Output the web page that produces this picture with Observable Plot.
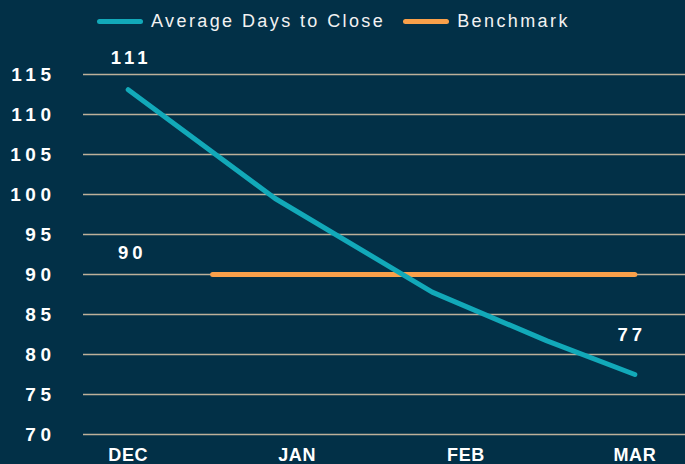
<!DOCTYPE html>
<html>
<head>
<meta charset="utf-8">
<script src="https://cdn.jsdelivr.net/npm/d3@7"></script>
<script src="https://cdn.jsdelivr.net/npm/@observablehq/plot@0.6"></script>
<style>
  html, body { margin: 0; padding: 0; background: #023047; }
  body { width: 685px; height: 464px; overflow: hidden; font-family: "Liberation Sans", Arial, sans-serif; }
  #legend { height: 40px; box-sizing: border-box; padding-top: 3px; padding-left: 97px; display: flex; align-items: center; color: #f2f2f2; font-size: 18px; letter-spacing: 2.4px; }
  .sw { display: inline-block; width: 46px; height: 5px; border-radius: 3px; margin-right: 8px; }
  .item { display: flex; align-items: center; margin-right: 18px; }
</style>
</head>
<body>
<div id="legend"></div>
<div id="chart"></div>
<script>
// Month categories (x = month index)
const months = ["DEC", "JAN", "FEB", "MAR"];
// Average Days to Close line (x in month units)
const closeX = [0, 0.87, 1.8, 2.48, 3];
const closeY = [113.1, 99.5, 87.8, 81.7, 77.5];
// Benchmark segment
const benchX = [0.5, 3];
const benchY = [90, 90];
// Annotations
const labelText = ["111", "90", "77"];
const labelX = [0, 0, 3];
const labelY = [111, 90, 77];
const yTicks = [70, 75, 80, 85, 90, 95, 100, 105, 110, 115];
const seriesNames = ["Average Days to Close", "Benchmark"];
const colors = ["#12a9b9", "#f9a04a"];

const closeData = closeX.map((x, i) => ({x, y: closeY[i]}));
const benchData = benchX.map((x, i) => ({x, y: benchY[i]}));
const labels = labelText.map((t, i) => ({t, x: labelX[i], y: labelY[i]}));

const legend = document.getElementById("legend");
seriesNames.forEach((n, i) => {
  const it = document.createElement("div");
  it.className = "item";
  it.innerHTML = `<span class="sw" style="background:${colors[i]}"></span><span>${n}</span>`;
  legend.appendChild(it);
});

const txt = {fill: "#ffffff", fontSize: 18.5, fontWeight: "bold"};

const chart = Plot.plot({
  width: 685,
  height: 424,
  marginLeft: 83,
  marginRight: 0,
  marginTop: 34,
  marginBottom: 30,
  style: {background: "#023047", color: "#ffffff", fontFamily: "'Liberation Sans', Arial, sans-serif", overflow: "visible"},
  x: {domain: [-0.2647, 3.3], ticks: [0, 1, 2, 3], tickFormat: d => months[d], tickSize: 0, tickPadding: 14, label: null},
  y: {domain: [70, 115], ticks: yTicks, tickSize: 0, tickPadding: 28, label: null},
  marks: [
    Plot.ruleY(yTicks, {stroke: "#bdb09a", strokeWidth: 1.6}),
    Plot.line(benchData, {x: "x", y: "y", stroke: colors[1], strokeWidth: 5, strokeLinecap: "round"}),
    Plot.line(closeData, {x: "x", y: "y", stroke: colors[0], strokeWidth: 5, strokeLinecap: "round", strokeLinejoin: "round"}),
    Plot.text(labels.slice(0, 1), {x: "x", y: "y", text: "t", dy: -48, dx: 3, ...txt}),
    Plot.text(labels.slice(1, 2), {x: "x", y: "y", text: "t", dy: -21, dx: 4, ...txt}),
    Plot.text(labels.slice(2, 3), {x: "x", y: "y", text: "t", dy: -43, dx: -3, ...txt})
  ]
});
const sel = d3.select(chart);
sel.selectAll("[aria-label='y-axis tick label'], [aria-label='x-axis tick label']")
  .attr("font-size", 19).attr("font-weight", "bold").attr("fill", "#ffffff");
sel.selectAll("[aria-label='y-axis tick label'] text").style("letter-spacing", "4.5px");
sel.selectAll("[aria-label='x-axis tick label'] text").style("letter-spacing", "0.6px").attr("font-size", 18);
sel.selectAll("g[aria-label='text'] text").style("letter-spacing", "4px");
document.getElementById("chart").appendChild(chart);
</script>
</body>
</html>
